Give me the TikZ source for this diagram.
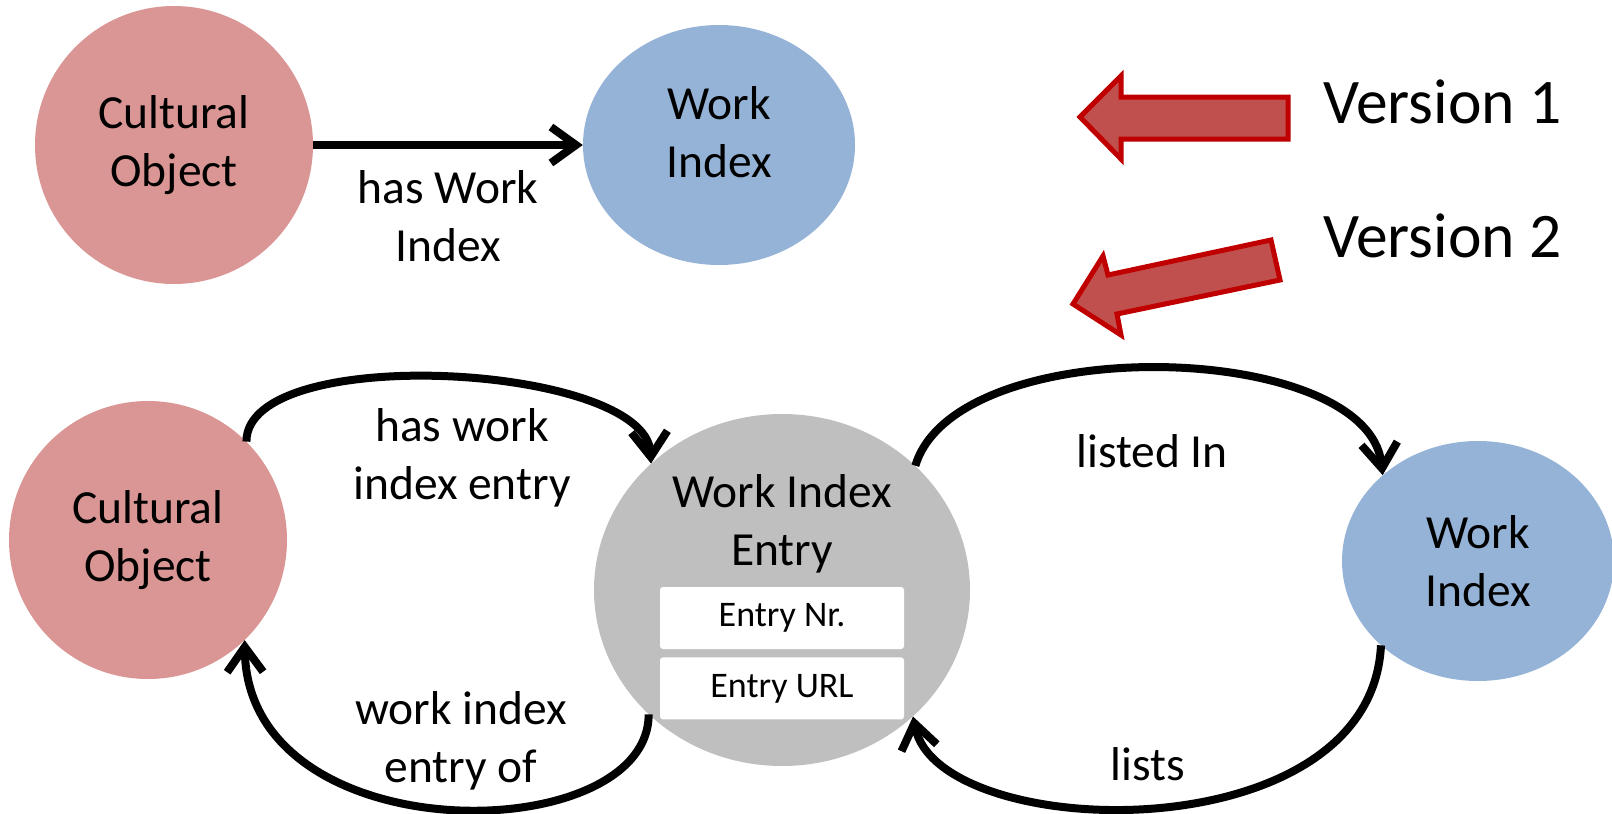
\documentclass[tikz,border=0pt]{standalone}
\usepackage{fontspec}
\setmainfont{Carlito}
\usetikzlibrary{positioning,shapes.geometric,arrows.meta}
\definecolor{coPink}{HTML}{D99694}
\definecolor{wiBlue}{HTML}{95B3D7}
\definecolor{wieGray}{HTML}{BFBFBF}
\definecolor{verFill}{HTML}{C0504D}
\definecolor{verLine}{HTML}{C00000}

\begin{document}
\begin{tikzpicture}[x=1pt, y=-1pt,
	txt/.style={font=\fontsize{47.5}{58}\selectfont, align=center, inner sep=0pt},
	obj/.style={txt, circle, fill=coPink, minimum size=278pt},
	idx/.style={txt, ellipse, fill=wiBlue, minimum width=272pt, minimum height=240pt},
	field/.style={font=\fontsize{36}{44}\selectfont, rectangle, rounded corners=3pt, fill=white, minimum width=244pt, minimum height=62pt, inner sep=0pt},
	rel/.style={line width=8pt, -{Straight Barb[length=25pt,width=36pt]}},
	ver/.style={font=\fontsize{63.5}{76}\selectfont, anchor=base west, inner sep=0pt},
	hint/.style={line width=5pt, draw=verLine, fill=verFill}]

	\useasboundingbox (0,0) rectangle (1612,814);

	% version 1
	\node (co1) [obj] at (174,145) {Cultural\\Object};
	\node (wi1) [idx, text depth=26pt] at (719,145) {Work\\Index};
	\draw [rel] (co1) -- (wi1) node [txt, midway, below=22pt] {has Work\\Index};

	% version 2
	\node (co2) [obj] at (148,540) {Cultural\\Object};
	\node (wie) [ellipse, fill=wieGray, minimum width=376pt, minimum height=352pt] at (782,590) {};
	\node (wiename) [txt] at (782,524) {Work Index\\Entry};
	\node (nr) [field] at (782,618) {Entry Nr.};
	\node (url) [field, below=8pt of nr] {Entry URL};
	\node (wi2) [idx] at (1478,561) {Work\\Index};

	\draw [rel] (co2.45) .. controls +(0,-100) and +(-5,-100) .. (wie.136);
	\draw [rel] (wie.223) .. controls +(0,135) and +(3,215) .. (co2.314);
	\draw [rel] (wie.43) .. controls +(41,-136) and +(-14,-136) .. (wi2.138);
	\draw [rel] (wi2.221) .. controls +(-10,210) and +(25,127) .. (wie.316);

	\node (hwie) [txt] at (462,458) {has work\\index entry};
	\node (wieof) [txt] at (461,741) {work index\\entry of};
	\node (lin) [txt, anchor=base] at (1152,467) {listed In};
	\node (lsts) [txt, anchor=base] at (1148,780) {lists};

	% version hints
	\draw [hint] (1080,117) -- (1121,76) -- (1121,97) -- (1288,97) -- (1288,139) -- (1121,139) -- (1121,159) -- cycle;
	\node (v1) [ver] at (1323,123) {Version 1};
	\draw [hint] (1073,304) -- (1103,256) -- (1108,275) -- (1271,240) -- (1280,280) -- (1117,314) -- (1121,335) -- cycle;
	\node (v2) [ver] at (1323,257) {Version 2};
\end{tikzpicture}
\end{document}
